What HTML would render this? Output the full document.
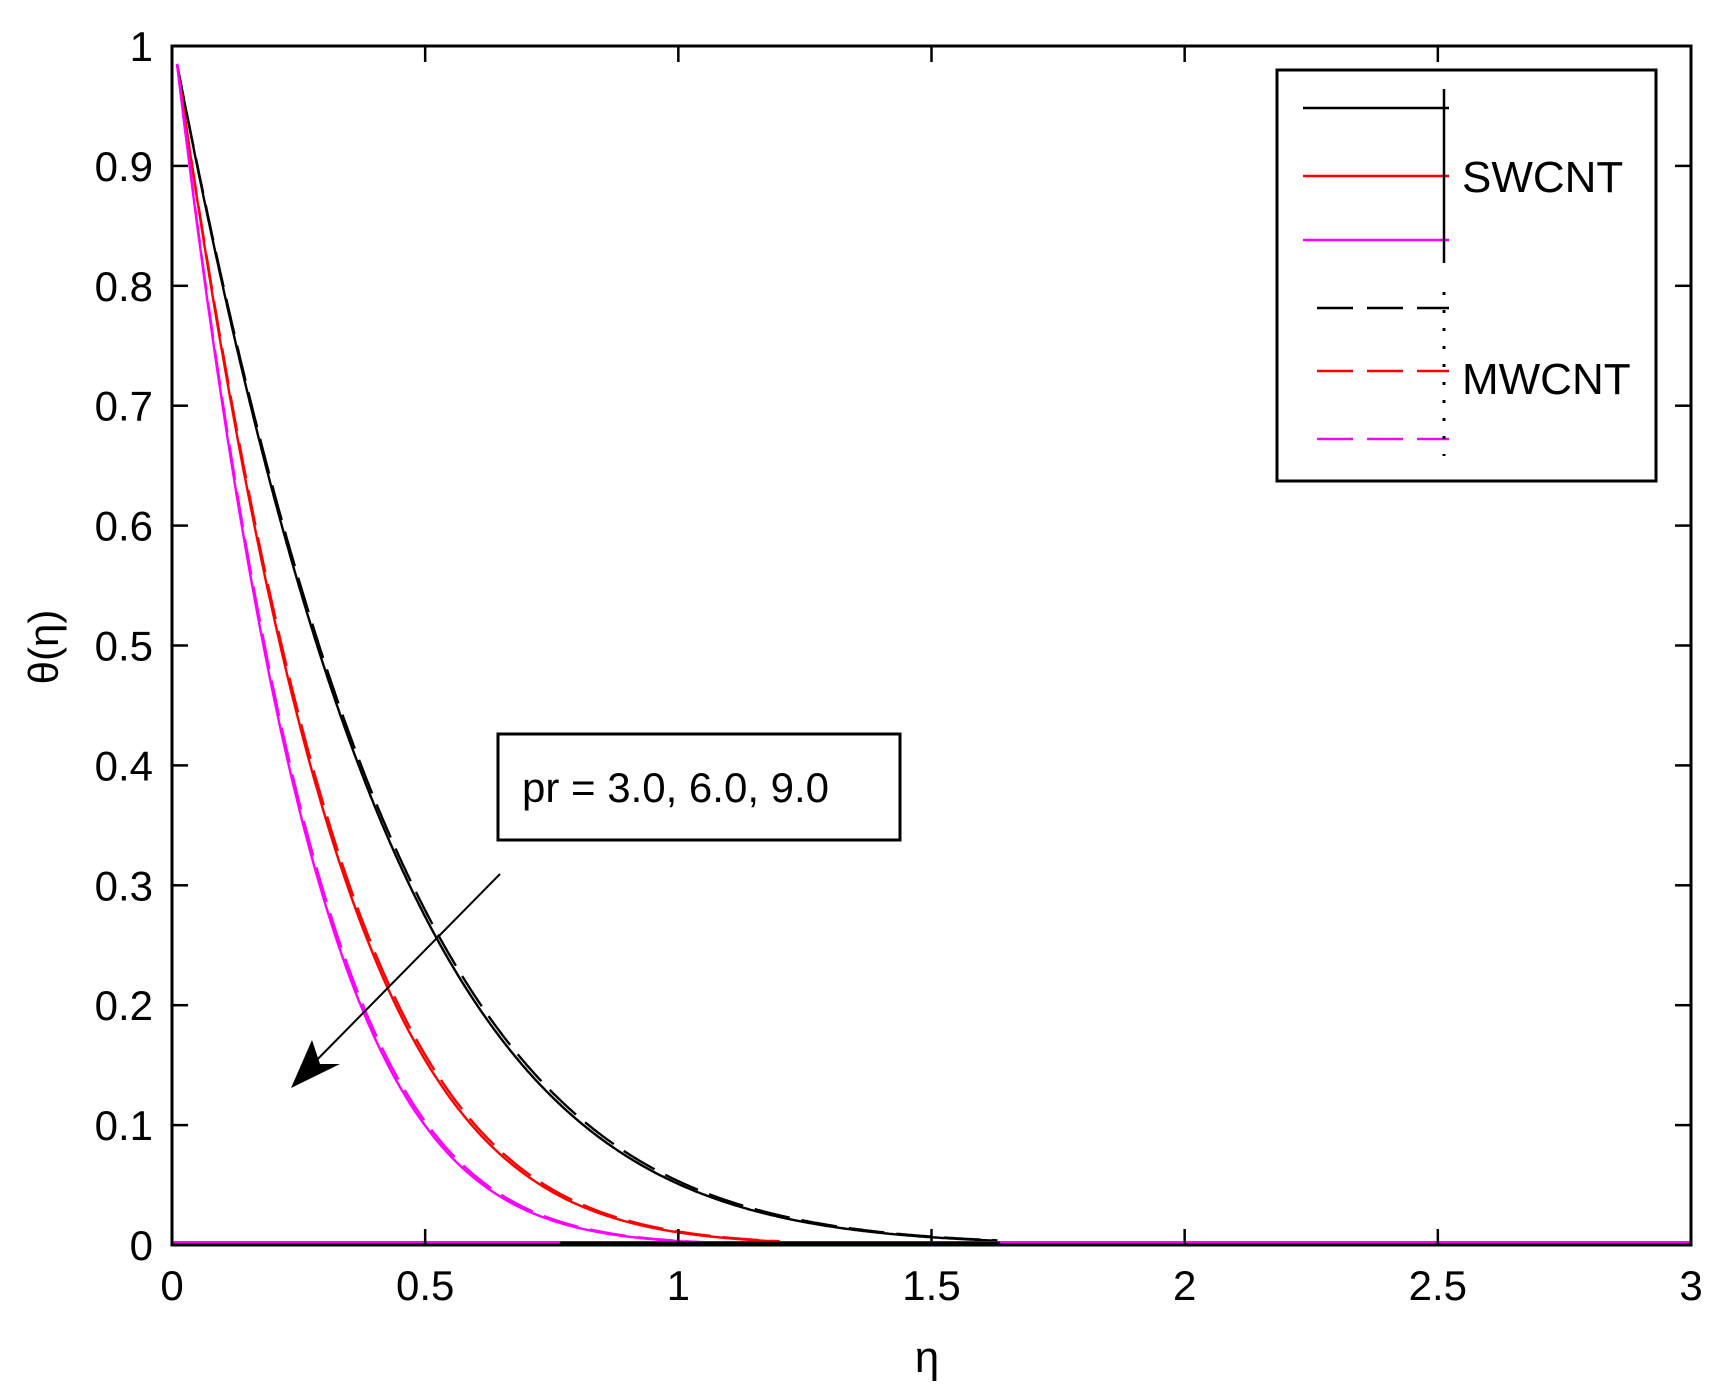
<!DOCTYPE html>
<html><head><meta charset="utf-8"><style>
html,body{margin:0;padding:0;background:#fff;}
svg{display:block;}
text{font-family:"Liberation Sans",sans-serif;fill:#000;}
</style></head><body>
<svg id="s" width="1720" height="1393" viewBox="0 0 1720 1393" xmlns="http://www.w3.org/2000/svg">
<rect x="0" y="0" width="1720" height="1393" fill="#fff"/>
<g id="curves" fill="none" stroke-width="2.4"></g>
<line x1="172" y1="1243" x2="1691" y2="1243" stroke="#f0f" stroke-width="4"/>
<line x1="560" y1="1243" x2="1000" y2="1243" stroke="#000" stroke-width="3"/>
<rect x="172" y="46" width="1519" height="1199" fill="none" stroke="#000" stroke-width="3"/>
<g id="ticks" stroke="#000" stroke-width="2.5"></g>
<g id="labels" font-size="42"></g>
<text x="927" y="1372" font-size="44" text-anchor="middle">η</text>
<text transform="translate(58,647) rotate(-90)" font-size="42" text-anchor="middle">θ(η)</text>
<!-- legend -->
<rect x="1277" y="70" width="379" height="411" fill="#fff" stroke="#000" stroke-width="3"/>
<line x1="1303" y1="108" x2="1449" y2="108" stroke="#000" stroke-width="2.5"/>
<line x1="1303" y1="176" x2="1449" y2="176" stroke="#f00" stroke-width="2.5"/>
<line x1="1303" y1="240" x2="1449" y2="240" stroke="#f0f" stroke-width="2.5"/>
<line x1="1444" y1="89" x2="1444" y2="263" stroke="#000" stroke-width="2.5"/>
<line x1="1317" y1="308" x2="1449" y2="308" stroke="#000" stroke-width="2.5" stroke-dasharray="36,14"/>
<line x1="1317" y1="371" x2="1449" y2="371" stroke="#f00" stroke-width="2.5" stroke-dasharray="36,14"/>
<line x1="1317" y1="439" x2="1449" y2="439" stroke="#f0f" stroke-width="2.5" stroke-dasharray="36,14"/>
<line x1="1444" y1="292" x2="1444" y2="456" stroke="#000" stroke-width="3" stroke-dasharray="3,15"/>
<text x="1462" y="192" font-size="44">SWCNT</text>
<text x="1462" y="394" font-size="44">MWCNT</text>
<!-- pr box -->
<rect x="498" y="734" width="402" height="106" fill="#fff" stroke="#000" stroke-width="3"/>
<text x="522" y="802" font-size="42">pr = 3.0, 6.0, 9.0</text>
<line x1="500" y1="874" x2="305" y2="1072" stroke="#000" stroke-width="2"/>
<polygon points="291,1088 312,1040 320,1064 340,1064" fill="#000"/>
</svg>
<script>
var X0=172,X1=1691,Y0=1245,Y1=46;
function px(x){return X0+(X1-X0)*x/3;} function py(y){return Y0-(Y0-Y1)*y;}
var ns="http://www.w3.org/2000/svg";
var cg=document.getElementById('curves');
var sets=[["#000",2.24,0.76,1.63],["#f00",3.0,1.6,1.2],["#f0f",3.6,2.2,3]];
function add(col,a,b,dash,xe){
  var d="";
  var n=600;
  for(var i=0;i<=n;i++){var x=0.01+i*(xe-0.01)/n;var y=0.985*Math.exp(-a*(x-0.01)-b*(x-0.01)*(x-0.01));d+=(i?"L":"M")+px(x).toFixed(1)+" "+py(y).toFixed(1);}
  var p=document.createElementNS(ns,"path");p.setAttribute("d",d);p.setAttribute("stroke",col);
  if(dash)p.setAttribute("stroke-dasharray","36,12");cg.appendChild(p);
}
sets.forEach(function(s){add(s[0],s[1],s[2],false,s[3]);add(s[0],s[1]*0.985,s[2]*0.985,true,s[3]);});
var tg=document.getElementById('ticks'),lg=document.getElementById('labels');
function ln(x1,y1,x2,y2){var l=document.createElementNS(ns,"line");l.setAttribute("x1",x1);l.setAttribute("y1",y1);l.setAttribute("x2",x2);l.setAttribute("y2",y2);tg.appendChild(l);}
function tx(x,y,t,anc){var e=document.createElementNS(ns,"text");e.setAttribute("x",x);e.setAttribute("y",y);e.setAttribute("text-anchor",anc);e.textContent=t;lg.appendChild(e);}
for(var i=0;i<=6;i++){var x=px(i*0.5);ln(x,Y0,x,Y0-16);ln(x,Y1,x,Y1+16);tx(x,1300,(i*0.5).toString(),"middle");}
for(var j=0;j<=10;j++){var y=py(j/10);ln(X0,y,X0+16,y);ln(X1,y,X1-16,y);tx(153,y+15,j==0?"0":(j==10?"1":(j/10).toString()),"end");}
</script>
</body></html>
